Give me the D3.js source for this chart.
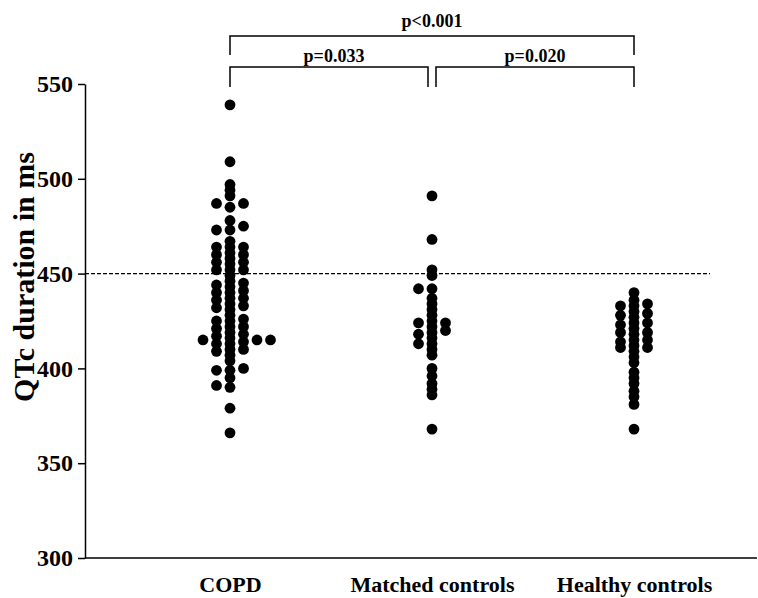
<!DOCTYPE html>
<html>
<head>
  <meta charset="utf-8">
  <script src="https://d3js.org/d3.v7.min.js"></script>
  <style>
    body { margin: 0; background: #fff; }
    text { font-family: "Liberation Serif", "Times New Roman", serif; font-weight: bold; }
  </style>
</head>
<body>
<div id="chart"></div>
<script>

  // groups on the x axis
  var groups = ['COPD', 'Matched controls', 'Healthy controls'];

  // QTc values (ms), one array per group
  var copd = [539, 509, 497, 494, 491, 485, 478, 475, 467, 464, 461, 458, 455, 452, 449, 446,
              443, 440, 437, 434, 431, 428, 425, 422, 419, 416, 413, 410, 407, 404, 400, 395, 379, 366,
              487, 473, 464, 460, 456, 452, 445, 441, 437, 433, 425, 421, 417, 413, 409, 399, 390,
              487, 473, 464, 460, 456, 452, 444, 440, 436, 432, 426, 422, 418, 414, 410, 399, 391,
              415, 415, 415];
  var matched = [491, 468, 452, 449, 437, 434, 431, 428, 425, 422, 419, 416, 413, 410, 407,
                 400, 396, 392, 389, 386, 368,
                 442, 424, 420, 442, 424, 418, 413];
  var healthy = [440, 436, 433, 430, 427, 424, 421, 418, 415, 412, 409, 406, 403, 398, 395, 392, 388, 385, 381, 368,
                 434, 429, 424, 419, 415, 411,
                 433, 428, 423, 419, 414, 411];
  var series = [copd, matched, healthy];

  var yTicks = [300, 350, 400, 450, 500, 550];
  var cutoff = 450;

  // comparisons: [from group, to group, label]
  var comparisons = [
    ['COPD', 'Healthy controls', 'p<0.001'],
    ['COPD', 'Matched controls', 'p=0.033'],
    ['Matched controls', 'Healthy controls', 'p=0.020']
  ];

  var W = 758, H = 598;
  var padL = 85, padR = 757, padT = 84, padB = 558;

  var svg = d3.select('#chart').append('svg')
    .attr('width', W)
    .attr('height', H);

  var y = d3.scaleLinear().domain([300, 550]).range([padB, padT]);
  var x = d3.scalePoint().domain(groups).range([230, 634]);

  // y axis
  var yAxis = svg.append('g')
    .attr('transform', 'translate(' + padL + ',0)')
    .call(d3.axisLeft(y).tickValues(yTicks).tickSize(7).tickSizeOuter(0).tickPadding(5));
  yAxis.selectAll('path, line').attr('stroke', '#000').attr('stroke-width', 1.5);
  yAxis.selectAll('text').attr('fill', '#000').style('font-size', '24px');

  // x axis baseline and labels
  svg.append('line')
    .attr('x1', padL).attr('x2', padR)
    .attr('y1', y(300)).attr('y2', y(300))
    .attr('stroke', '#000').attr('stroke-width', 1.5);

  var xAxis = svg.append('g')
    .attr('transform', 'translate(0,' + padB + ')')
    .call(d3.axisBottom(x).tickSize(0).tickPadding(18));
  xAxis.select('.domain').remove();
  xAxis.selectAll('text').attr('fill', '#000').style('font-size', '22px');

  // y title
  svg.append('text')
    .attr('transform', 'translate(34,' + 277 + ') rotate(-90)')
    .attr('text-anchor', 'middle')
    .style('font-size', '30px')
    .text('QTc duration in ms');

  // 450 ms cut off
  svg.append('line')
    .attr('x1', padL).attr('x2', 710)
    .attr('y1', y(cutoff)).attr('y2', y(cutoff))
    .attr('stroke', '#000').attr('stroke-width', 1.4)
    .attr('stroke-dasharray', '4,2');

  // simple swarm: put each value in the first free column near the centre
  function swarm(values, gap) {
    var order = [0, -1, 1, -2, 2, 3, -3, 4];
    var cols = {};
    return values.slice().sort(function(a, b){ return a - b; }).map(function(v){
      for (var i = 0; i < order.length; i++) {
        var k = order[i];
        var list = cols[k] || (cols[k] = []);
        if (list.every(function(u){ return Math.abs(u - v) >= gap; })) {
          list.push(v);
          return {v: v, k: k};
        }
      }
    });
  }

  var step = 13.5;
  series.forEach(function(vals, i){
    var g = groups[i];
    svg.append('g').selectAll('circle')
      .data(swarm(vals, 2.9))
      .enter().append('circle')
      .attr('cx', function(d){ return x(g) + d.k * step; })
      .attr('cy', function(d){ return y(d.v); })
      .attr('r', 5.4)
      .attr('fill', '#000');
  });

  // significance brackets
  var levels = [{ bar: 36, leg: 55, text: 27 }, { bar: 67, leg: 87, text: 62 }, { bar: 67, leg: 87, text: 62 }];
  comparisons.forEach(function(c, i){
    var lv = levels[i];
    var x1 = x(c[0]), x2 = x(c[1]);
    if (i === 1) x2 -= 4;
    if (i === 2) x1 += 4;
    svg.append('path')
      .attr('d', 'M' + x1 + ',' + lv.leg + 'V' + lv.bar + 'H' + x2 + 'V' + lv.leg)
      .attr('fill', 'none').attr('stroke', '#000').attr('stroke-width', 1.5);
    svg.append('text')
      .attr('x', (x1 + x2) / 2 + (i === 1 ? 5 : 0))
      .attr('y', lv.text)
      .attr('text-anchor', 'middle')
      .style('font-size', '18px')
      .text(c[2]);
  });

</script>
</body>
</html>
